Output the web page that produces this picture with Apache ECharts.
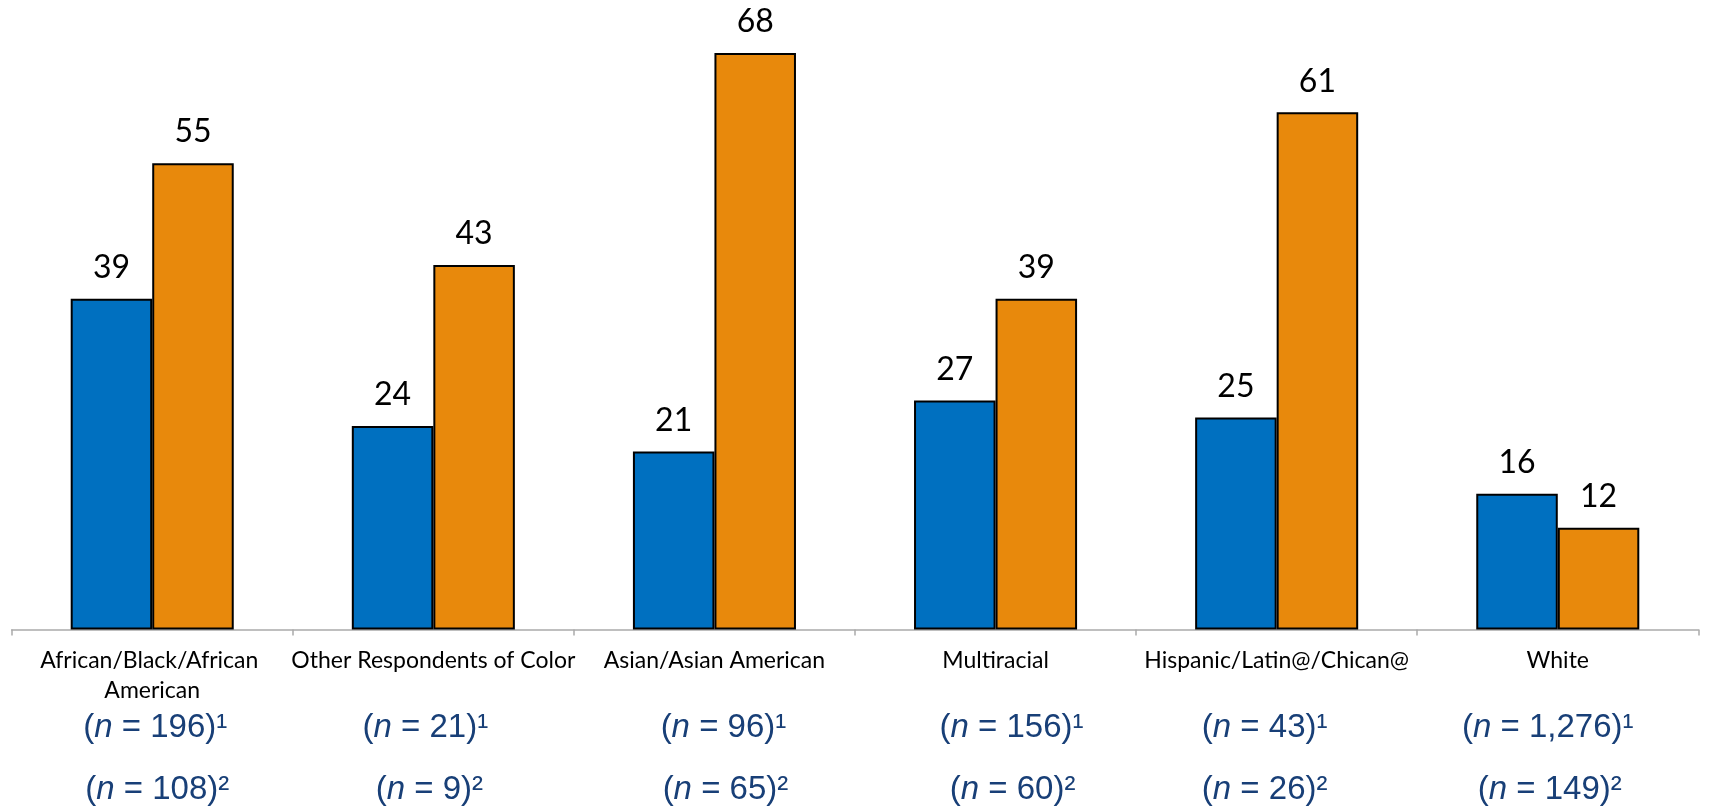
<!DOCTYPE html>
<html>
<head>
<meta charset="utf-8">
<script src="https://cdn.jsdelivr.net/npm/echarts@6/dist/echarts.min.js"></script>
<style>
  html, body { margin: 0; padding: 0; background: #ffffff; }
  #chart { width: 1710px; height: 806px; }
</style>
</head>
<body>
<div id="chart"></div>
<script>
// Groups shown along the category axis
const categories = [
  'African/Black/African American',
  'Other Respondents of Color',
  'Asian/Asian American',
  'Multiracial',
  'Hispanic/Latin@/Chican@',
  'White'
];
// Percentages for the two samples
const sample1Values = [39, 24, 21, 27, 25, 16];
const sample2Values = [55, 43, 68, 39, 61, 12];
// Sample sizes printed under each group
const sample1Sizes = ['196', '21', '96', '156', '43', '1,276'];
const sample2Sizes = ['108', '9', '65', '60', '26', '149'];

// Horizontal nudges (px) for the sample-size lines, which sit a little off-centre
const sample1Nudge = [3, -8, 9, 16, -12, -10];
const sample2Nudge = [5, -4, 11, 17, -12, -8];

const chart = echarts.init(document.getElementById('chart'), null, { renderer: 'canvas' });

const NAVY = '#183F77';
const SIZE_FONT = 33;
const SIZE_LH = 40;

function sizeAxis(sizes, nudges, sup, offset) {
  const rich = {
    p: { fontFamily: 'Liberation Sans', fontSize: SIZE_FONT, color: NAVY, lineHeight: SIZE_LH },
    i: { fontFamily: 'Liberation Sans', fontSize: SIZE_FONT, fontStyle: 'italic', color: NAVY, lineHeight: SIZE_LH }
  };
  nudges.forEach((s, k) => {
    rich['g' + k] = { width: Math.abs(s) * 2, lineHeight: SIZE_LH };
  });
  return {
    type: 'category',
    data: categories,
    position: 'bottom',
    offset: offset,
    axisLine: { show: false },
    axisTick: { show: false },
    axisLabel: {
      interval: 0,
      margin: 0,
      formatter: (v, idx) => {
        const body = `{p|(}{i|n}{p| = ${sizes[idx]})${sup}}`;
        const gap = `{g${idx}|}`;
        return nudges[idx] >= 0 ? gap + body : body + gap;
      },
      rich: rich
    }
  };
}

const barLabel = {
  show: true,
  position: 'top',
  distance: 15,
  fontFamily: 'Lato',
  fontSize: 32,
  color: '#000000'
};

chart.setOption({
  animation: false,
  backgroundColor: '#ffffff',
  grid: { left: 11, right: 3, top: 36, bottom: 176, containLabel: false },
  xAxis: [
    {
      type: 'category',
      data: categories,
      axisLine: { lineStyle: { color: '#AAAAAA', width: 1.5 } },
      axisTick: { show: true, length: 6, lineStyle: { color: '#AAAAAA', width: 1.5 } },
      axisLabel: {
        interval: 0,
        margin: 16,
        fontFamily: 'Lato',
        fontSize: 23,
        lineHeight: 30,
        color: '#000000',
        width: 300,
        overflow: 'break'
      }
    },
    sizeAxis(sample1Sizes, sample1Nudge, '¹', 78),
    sizeAxis(sample2Sizes, sample2Nudge, '²', 140)
  ],
  yAxis: {
    type: 'value',
    min: 0,
    max: 70,
    show: false,
    splitLine: { show: false }
  },
  series: [
    {
      name: 'Sample 1',
      type: 'bar',
      data: sample1Values,
      barGap: '0%',
      barCategoryGap: '42%',
      itemStyle: { color: '#0070C0', borderColor: '#000000', borderWidth: 2 },
      label: barLabel
    },
    {
      name: 'Sample 2',
      type: 'bar',
      data: sample2Values,
      barGap: '0%',
      barCategoryGap: '42%',
      itemStyle: { color: '#E8890C', borderColor: '#000000', borderWidth: 2 },
      label: barLabel
    }
  ]
});
</script>
</body>
</html>
